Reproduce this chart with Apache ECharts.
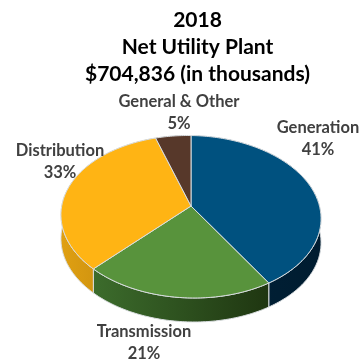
<!DOCTYPE html>
<html>
<head>
<meta charset="utf-8">
<style>html,body{margin:0;padding:0;background:#fff}#chart{width:362px;height:359px}</style>
<script src="https://cdn.jsdelivr.net/npm/echarts@6/dist/echarts.min.js"></script>
</head>
<body>
<div id="chart"></div>
<script>
const titleLines = ['2018', 'Net Utility Plant', '$704,836 (in thousands)'];
const categories = ['Generation', 'Transmission', 'Distribution', 'General & Other'];
const shares = [41, 21, 33, 5];
const faceColors = ['#00517f', '#58933c', '#ffb414', '#57382a'];
const wallColors = [
  ['#002239', '#001c30'],
  ['#3c6c2c', '#1f3611'],
  ['#e0a012', '#b9820c'],
  ['#3a2418', '#3a2418']
];
const labelAnchors = [[318, 139], [144, 343], [60, 161.5], [179, 113]];

// Perspective projection of the round pie onto the page, with a slight tilt.
const pie = { cx: 191, cy: 206, a: 128.9, b: 79.8, k: -0.1323, tilt: 0.015, depth: 24 };
function project(turn, drop) {
  const t = turn * 2 * Math.PI;
  const u = Math.sin(t), v = -Math.cos(t);
  const w = 1 + pie.k * v;
  const dx = pie.a * u / w;
  return [pie.cx + dx, pie.cy + pie.b * v / w + pie.tilt * dx + drop];
}
function arc(from, to, drop) {
  const n = Math.max(2, Math.ceil((to - from) * 360));
  const pts = [];
  for (let i = 0; i <= n; i++) pts.push(project(from + (to - from) * i / n, drop));
  return pts;
}

const total = shares.reduce((s, v) => s + v, 0);
let running = 0;
const spans = shares.map(v => {
  const span = [v, running / total, (running + v) / total];
  running += v;
  return span;
});
const edge = { stroke: '#d9dde0', lineWidth: 1 };

function renderWall(params, api) {
  const i = params.dataIndex;
  const from = api.value(1), to = api.value(2);
  const pts = arc(from, to, 0).concat(arc(from, to, pie.depth).reverse());
  return {
    type: 'polygon',
    shape: { points: pts },
    style: Object.assign({
      fill: {
        type: 'linear', x: 0, y: 0, x2: 1, y2: 0,
        colorStops: [
          { offset: 0, color: wallColors[i][0] },
          { offset: 1, color: wallColors[i][1] }
        ]
      }
    }, edge)
  };
}

function renderFace(params, api) {
  const i = params.dataIndex;
  const pts = [[pie.cx, pie.cy]].concat(arc(api.value(1), api.value(2), 0));
  return {
    type: 'group',
    children: [
      { type: 'polygon', shape: { points: pts }, style: Object.assign({ fill: faceColors[i] }, edge) },
      {
        type: 'text',
        x: labelAnchors[i][0], y: labelAnchors[i][1],
        style: {
          text: categories[i] + '\n' + api.value(0) + '%',
          font: 'bold 16.5px Lato, sans-serif',
          lineHeight: 22,
          fill: '#404040',
          align: 'center',
          verticalAlign: 'middle'
        }
      }
    ]
  };
}

const chart = echarts.init(document.getElementById('chart'), null, { renderer: 'canvas' });
chart.setOption({
  animation: false,
  title: {
    text: titleLines.join('\n'),
    left: 192.5, top: 2,
    textAlign: 'center',
    textStyle: { fontFamily: 'Lato, sans-serif', fontWeight: 'bold', fontSize: 21, lineHeight: 27, color: '#000' }
  },
  series: [
    { type: 'custom', coordinateSystem: 'none', renderItem: renderWall, data: spans, z: 1 },
    { type: 'custom', coordinateSystem: 'none', renderItem: renderFace, data: spans, z: 2 }
  ]
});
</script>
</body>
</html>
